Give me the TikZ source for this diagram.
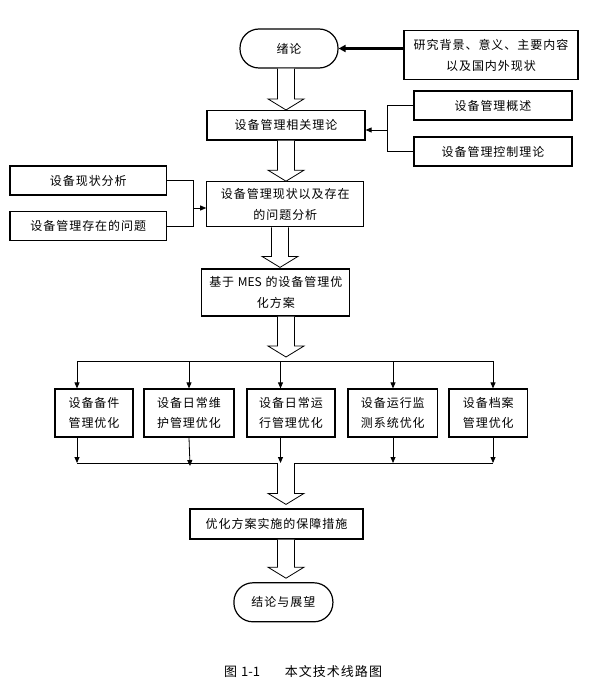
\documentclass[tikz,border=0pt]{standalone}
\usepackage{fontspec}
\setmainfont[LetterSpace=8]{Noto Sans CJK SC}
\newfontfamily\lat{Noto Sans CJK SC}
\usetikzlibrary{arrows.meta,calc}
\newcommand{\barrow}[4]{%
  \path (#1 -| #3) coordinate (ba) (#2 -| #3) coordinate (bb);
  \draw[blk] ([xshift=-8.5pt]ba) -- ([xshift=-8.5pt,yshift=#4+11pt]bb) -- ([xshift=-18pt,yshift=#4+11pt]bb) -- ([yshift=#4]bb) -- ([xshift=18pt,yshift=#4+11pt]bb) -- ([xshift=8.5pt,yshift=#4+11pt]bb) -- ([xshift=8.5pt]ba);
}
\begin{document}
\begin{tikzpicture}[x=1pt,y=-1pt,
  bx/.style={draw, line width=1.2pt, inner sep=0pt, align=center, font=\fontsize{12}{20.5}\selectfont},
  stad/.style={bx, rounded corners=19pt},
  ln/.style={line width=0.8pt},
  arr/.style={ln, -{Triangle[length=6pt,width=5pt]}},
  thk/.style={line width=2.5pt, -{Triangle[length=7pt,width=7pt]}},
  blk/.style={line width=0.8pt, fill=white}]
\useasboundingbox (0,0) rectangle (611,695);
% nodes
\node[stad, minimum width=98pt, minimum height=39pt] (xl) at (289,48.5) {绪论};
\node[bx, minimum width=174pt, minimum height=49pt] (bg) at (491,55.3) {研究背景、意义、主要内容\\以及国内外现状};
\node[bx, minimum width=158pt, minimum height=29.5pt] (th) at (286,125.3) {设备管理相关理论};
\node[bx, minimum width=158pt, minimum height=29pt] (gs) at (493,105.5) {设备管理概述};
\node[bx, minimum width=158pt, minimum height=29pt] (kz) at (493,151.5) {设备管理控制理论};
\node[bx, minimum width=157pt, minimum height=45pt] (xz) at (285.3,204.3) {设备管理现状以及存在\\的问题分析};
\node[bx, minimum width=156.7pt, minimum height=29pt] (a1) at (88.3,180.5) {设备现状分析};
\node[bx, minimum width=156.7pt, minimum height=29pt] (a2) at (88.3,226.2) {设备管理存在的问题};
\node[bx, minimum width=148pt, minimum height=47pt] (mes) at (275.8,292.5) {基于 {\lat MES} 的设备管理优\\化方案};
\node[bx, minimum width=78pt, minimum height=48pt] (b1) at (94,413) {设备备件\\管理优化};
\node[bx, minimum width=90pt, minimum height=48pt] (b2) at (189,413) {设备日常维\\护管理优化};
\node[bx, minimum width=88pt, minimum height=48pt] (b3) at (291,413) {设备日常运\\行管理优化};
\node[bx, minimum width=89.7pt, minimum height=48pt] (b4) at (392.8,413) {设备运行监\\测系统优化};
\node[bx, minimum width=78.7pt, minimum height=48pt] (b5) at (488.3,413) {设备档案\\管理优化};
\node[bx, minimum width=173pt, minimum height=30pt] (ss) at (276.5,524) {优化方案实施的保障措施};
\node[stad, minimum width=99pt, minimum height=39pt] (jl) at (283.4,602.3) {结论与展望};
\node[anchor=west, inner sep=0pt, font=\fontsize{13}{15}\selectfont] (cap) at (224,672) {图 {\lat 1-1}\hspace{1.9em}本文技术线路图};
% coordinates
\coordinate (cA) at (286,0);
\coordinate (cB) at (280,0);
\coordinate (tl) at (285.5,361);
\coordinate (bl) at (286,463);
\coordinate (rj) at (387,130);
\coordinate (lj) at (193,208);
\coordinate (t1) at (77,361);
\coordinate (t2) at (189,361);
\coordinate (t3) at (280.5,361);
\coordinate (t4) at (393,361);
\coordinate (t5) at (493,361);
\coordinate (u1) at (77,463);
\coordinate (u2) at (190,466);
\coordinate (u3) at (280.5,463);
\coordinate (u4) at (393,463);
\coordinate (u5) at (493,463);
% connectors
\draw[thk] (xl.east -| bg.west) -- (xl.east);
\draw[ln] (gs.west) -| (rj);
\draw[ln] (kz.west) -| (rj);
\draw[arr] (rj) -- (rj -| th.east);
\draw[ln] (a1.east) -| (lj);
\draw[ln] (a2.east) -| (lj);
\draw[arr] (lj) -- (lj -| xz.west);
\draw[ln] (t1) -- (t5);
\draw[ln] (u1) -- (u5);
\foreach \i in {1,...,5}{
  \draw[arr] (t\i) -- (t\i |- b\i.north);
  \draw[arr] (t\i |- b\i.south) -- (u\i);
}
% block arrows
\barrow{xl.south}{th.north}{cA}{0pt}
\barrow{th.south}{xz.north}{cA}{0pt}
\barrow{xz.south}{mes.north}{cB}{1pt}
\barrow{mes.south}{tl}{cA}{4pt}
\barrow{bl}{ss.north}{cA}{4pt}
\barrow{ss.south}{jl.north}{cA}{4pt}
\end{tikzpicture}
\end{document}
